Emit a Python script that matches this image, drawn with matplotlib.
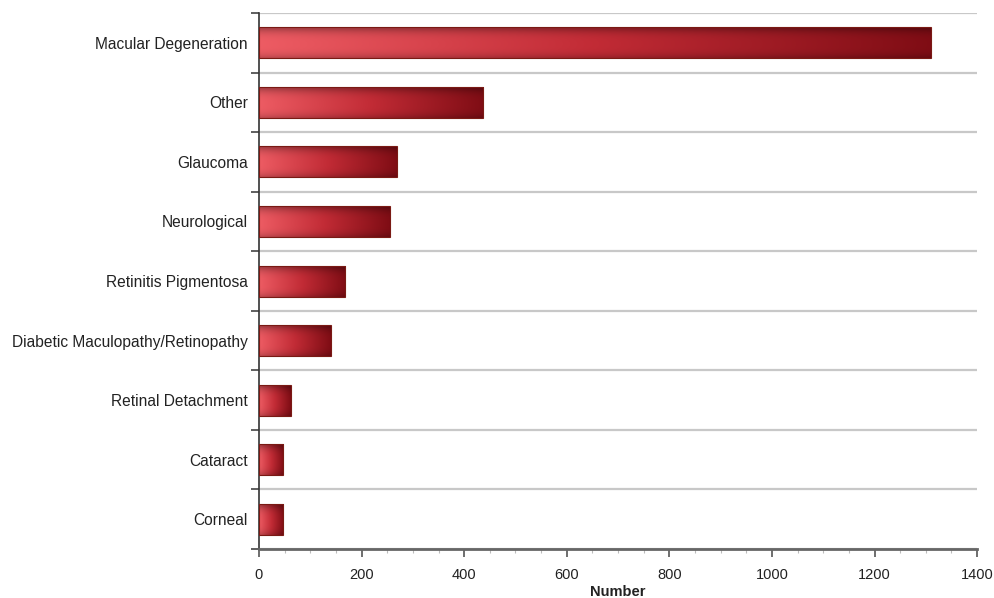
import numpy as np
import matplotlib
matplotlib.use("Agg")
import matplotlib.pyplot as plt
from matplotlib.patches import Rectangle
from matplotlib.ticker import MultipleLocator

categories = ["Macular Degeneration", "Other", "Glaucoma", "Neurological",
              "Retinitis Pigmentosa", "Diabetic Maculopathy/Retinopathy",
              "Retinal Detachment", "Cataract", "Corneal"]
values = [1310, 437, 269, 255, 168, 140, 62, 47, 47]
xticks = [0, 200, 400, 600, 800, 1000, 1200, 1400]

plt.rcParams['font.family'] = ['Liberation Sans', 'DejaVu Sans']

fig = plt.figure(figsize=(9.95, 5.98), dpi=100)
ax = fig.add_axes([0.2603, 0.0819, 0.7217, 0.8963])

n = len(categories)
ypos = np.arange(n)[::-1]  # top category at top
h = 0.52

nx, ny = 256, 64
gx = np.linspace(0, 1, nx)
gy = np.linspace(-1, 1, ny)
c0 = np.array([0.93, 0.36, 0.39])
c1 = np.array([0.76, 0.17, 0.21])
c2 = np.array([0.50, 0.05, 0.08])

def hgrad(t):
    out = np.empty((t.size, 3))
    for i, tt in enumerate(t):
        if tt < 0.5:
            f = tt / 0.5
            out[i] = c0 * (1 - f) + c1 * f
        else:
            f = (tt - 0.5) / 0.5
            out[i] = c1 * (1 - f) + c2 * f
    return out

for y, v in zip(ypos, values):
    base = hgrad(gx)
    shade = 1 - 0.28 * np.clip(np.abs(gy + 0.1), 0, 1) ** 3
    img = np.clip(base[None, :, :] * shade[:, None, None], 0, 1)
    im = ax.imshow(img, extent=(0, v, y - h / 2, y + h / 2), aspect='auto',
                   origin='lower', interpolation='bilinear', zorder=3)
    rect = Rectangle((0, y - h / 2), v, h, facecolor='none',
                     edgecolor='#7a1a14', linewidth=0.8, zorder=4)
    ax.add_patch(rect)
    im.set_clip_path(rect)

ax.set_xlim(0, 1400)
ax.set_ylim(-0.5, n - 0.5)
ax.set_xticks(xticks)
ax.set_xticklabels([str(t) for t in xticks], fontsize=10.5, color='#222222')
ax.xaxis.set_minor_locator(MultipleLocator(50))
ax.set_yticks(ypos)
ax.set_yticklabels(categories, fontsize=11.2, color='#222222')
ax.set_yticks(np.arange(-0.5, n, 1.0), minor=True)
ax.tick_params(axis='y', which='major', length=0, pad=8)
ax.tick_params(axis='y', which='minor', length=6, width=1.2, color='#444444')
ax.tick_params(axis='x', which='major', length=6, width=1.2, color='#555555', pad=8)
ax.tick_params(axis='x', which='minor', length=3, width=0.8, color='#bbbbbb')
ax.grid(axis='y', which='minor', color='#c8c8c8', linewidth=1.6, zorder=0)

for s in ['top', 'right']:
    ax.spines[s].set_visible(False)
ax.spines['left'].set_color('#333333')
ax.spines['left'].set_linewidth(1.2)
ax.spines['bottom'].set_color('#666666')
ax.spines['bottom'].set_linewidth(2.0)

ax.set_xlabel("Number", fontsize=10.5, fontweight='bold', labelpad=2, color='#222222')

fig.savefig("out.png", dpi=100, facecolor='white')
